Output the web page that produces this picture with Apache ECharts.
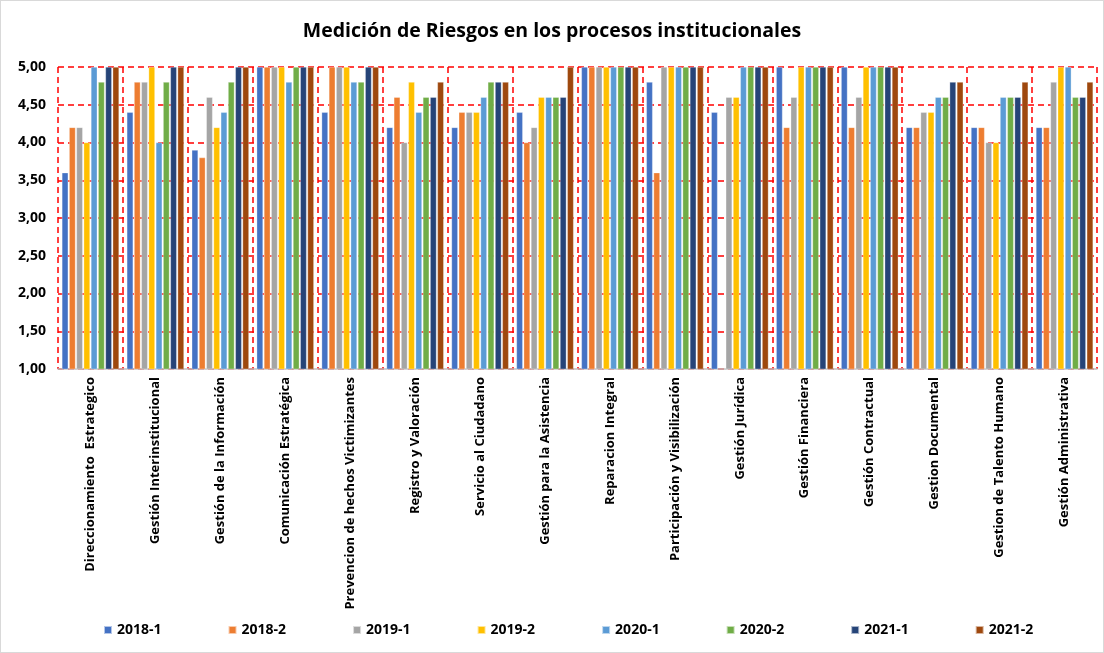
<!DOCTYPE html>
<html>
<head>
<meta charset="utf-8">
<script src="https://cdn.jsdelivr.net/npm/echarts@6/dist/echarts.min.js"></script>
<style>
  html, body { margin: 0; padding: 0; background: #fff; }
  #chart { width: 1102px; height: 651px; border: 1px solid #d9d9d9; }
</style>
</head>
<body>
<div id="chart"></div>
<script>
// procesos (eje x)
var procesos = [
  'Direccionamiento  Estrategico', 'Gestión Interinstitucional', 'Gestión de la Información',
  'Comunicación Estratégica', 'Prevencion de hechos Victimizantes', 'Registro y Valoración',
  'Servicio al Ciudadano', 'Gestión para la Asistencia', 'Reparacion Integral',
  'Participación y Visibilización', 'Gestión Jurídica', 'Gestión Financiera',
  'Gestión Contractual', 'Gestion Documental', 'Gestion de Talento Humano', 'Gestión Administrativa'
];

// periodos (leyenda)
var periodos = ['2018-1', '2018-2', '2019-1', '2019-2', '2020-1', '2020-2', '2021-1', '2021-2'];

// valores por periodo, en el orden de procesos
var v2018_1 = [3.6, 4.4, 3.9, 5.0, 4.4, 4.2, 4.2, 4.4, 5.0, 4.8, 4.4, 5.0, 5.0, 4.2, 4.2, 4.2];
var v2018_2 = [4.2, 4.8, 3.8, 5.0, 5.0, 4.6, 4.4, 4.0, 5.0, 3.6, null, 4.2, 4.2, 4.2, 4.2, 4.2];
var v2019_1 = [4.2, 4.8, 4.6, 5.0, 5.0, 4.0, 4.4, 4.2, 5.0, 5.0, 4.6, 4.6, 4.6, 4.4, 4.0, 4.8];
var v2019_2 = [4.0, 5.0, 4.2, 5.0, 5.0, 4.8, 4.4, 4.6, 5.0, 5.0, 4.6, 5.0, 5.0, 4.4, 4.0, 5.0];
var v2020_1 = [5.0, 4.0, 4.4, 4.8, 4.8, 4.4, 4.6, 4.6, 5.0, 5.0, 5.0, 5.0, 5.0, 4.6, 4.6, 5.0];
var v2020_2 = [4.8, 4.8, 4.8, 5.0, 4.8, 4.6, 4.8, 4.6, 5.0, 5.0, 5.0, 5.0, 5.0, 4.6, 4.6, 4.6];
var v2021_1 = [5.0, 5.0, 5.0, 5.0, 5.0, 4.6, 4.8, 4.6, 5.0, 5.0, 5.0, 5.0, 5.0, 4.8, 4.6, 4.6];
var v2021_2 = [5.0, 5.0, 5.0, 5.0, 5.0, 4.8, 4.8, 5.0, 5.0, 5.0, 5.0, 5.0, 5.0, 4.8, 4.8, 4.8];

var valores = [v2018_1, v2018_2, v2019_1, v2019_2, v2020_1, v2020_2, v2021_1, v2021_2];
var colores = ['#4472C4', '#ED7D31', '#A5A5A5', '#FFC000', '#5B9BD5', '#70AD47', '#264478', '#9E480E'];

var fuente = 'Open Sans';
var myChart = echarts.init(document.getElementById('chart'));

var series = periodos.map(function (p, i) {
  return {
    name: p,
    type: 'bar',
    data: valores[i],
    barGap: '15%',
    barCategoryGap: '12%',
    itemStyle: { color: colores[i], borderColor: 'rgba(255,255,255,0.6)', borderWidth: 0.5 }
  };
});

var option = {
  animation: false,
  color: colores,
  title: {
    text: 'Medición de Riesgos en los procesos institucionales',
    left: 'center',
    top: 15,
    textStyle: { fontFamily: fuente, fontSize: 19.5, fontWeight: 'bold', color: '#000' }
  },
  legend: {
    bottom: 10,
    left: 97,
    itemWidth: 8,
    itemHeight: 8,
    itemGap: 66,
    icon: 'rect',
    textStyle: { fontFamily: fuente, fontSize: 14, fontWeight: 'bold', color: '#000' }
  },
  grid: { left: 57, right: 6, top: 66, bottom: 283, containLabel: false },
  xAxis: {
    type: 'category',
    data: procesos,
    axisLine: { lineStyle: { color: '#bfbfbf', width: 1.5 } },
    axisTick: { show: false },
    splitLine: { show: true, interval: 0, lineStyle: { color: '#ff0000', type: [6, 4], width: 1.5 } },
    axisLabel: {
      interval: 0,
      rotate: 90,
      margin: 8,
      fontFamily: fuente,
      fontSize: 13,
      fontWeight: 'bold',
      color: '#000'
    }
  },
  yAxis: {
    type: 'value',
    min: 1,
    max: 5,
    interval: 0.5,
    axisLine: { show: false },
    axisTick: { show: false },
    splitLine: { lineStyle: { color: '#ff0000', type: [6, 4], width: 1.5 } },
    axisLabel: {
      margin: 12,
      fontFamily: fuente,
      fontSize: 14,
      fontWeight: 'bold',
      color: '#000',
      formatter: function (v) { return v.toFixed(2).replace('.', ','); }
    }
  },
  series: series
};

myChart.setOption(option);
</script>
</body>
</html>
